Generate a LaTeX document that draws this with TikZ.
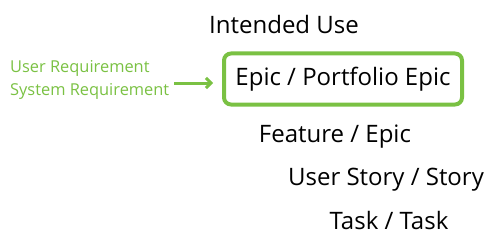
\documentclass[tikz,border=0pt]{standalone}
\usepackage{fontspec}
\setmainfont{Open Sans}
\usepackage{tikz}
\usetikzlibrary{arrows.meta}
\definecolor{leaf}{RGB}{122,193,67}
\tikzset{level/.style={inner sep=0pt, font=\fontsize{24}{28}\selectfont},
  req/.style={inner sep=0pt, text=leaf, align=left, font=\fontsize{16.4}{23}\selectfont}}
\begin{document}
\begin{tikzpicture}[x=1pt,y=-1pt]
\useasboundingbox (0,0) rectangle (500,246);
\node[level] (use) at (284,25) {Intended Use};
\node[level, draw=leaf, line width=4pt, rounded corners=7pt, inner xsep=10pt, inner ysep=13pt,
  minimum width=238pt, minimum height=51pt] (epic) at (343,79) {Epic / Portfolio Epic};
\node[level] (feat) at (335,137) {Feature / Epic};
\node[level] (story) at (386,180) {User Story / Story};
\node[level] (task) at (389,220) {Task / Task};
\node[req, anchor=west] (reqs) at (10,80) {User Requirement\\System Requirement};
\coordinate (a) at ([xshift=5pt,yshift=-3pt]reqs.east);
\draw[leaf, line width=3pt, shorten >=9pt, -{Straight Barb[length=5pt,width=10pt]}] (a) -- (a -| epic.west);
\end{tikzpicture}
\end{document}
